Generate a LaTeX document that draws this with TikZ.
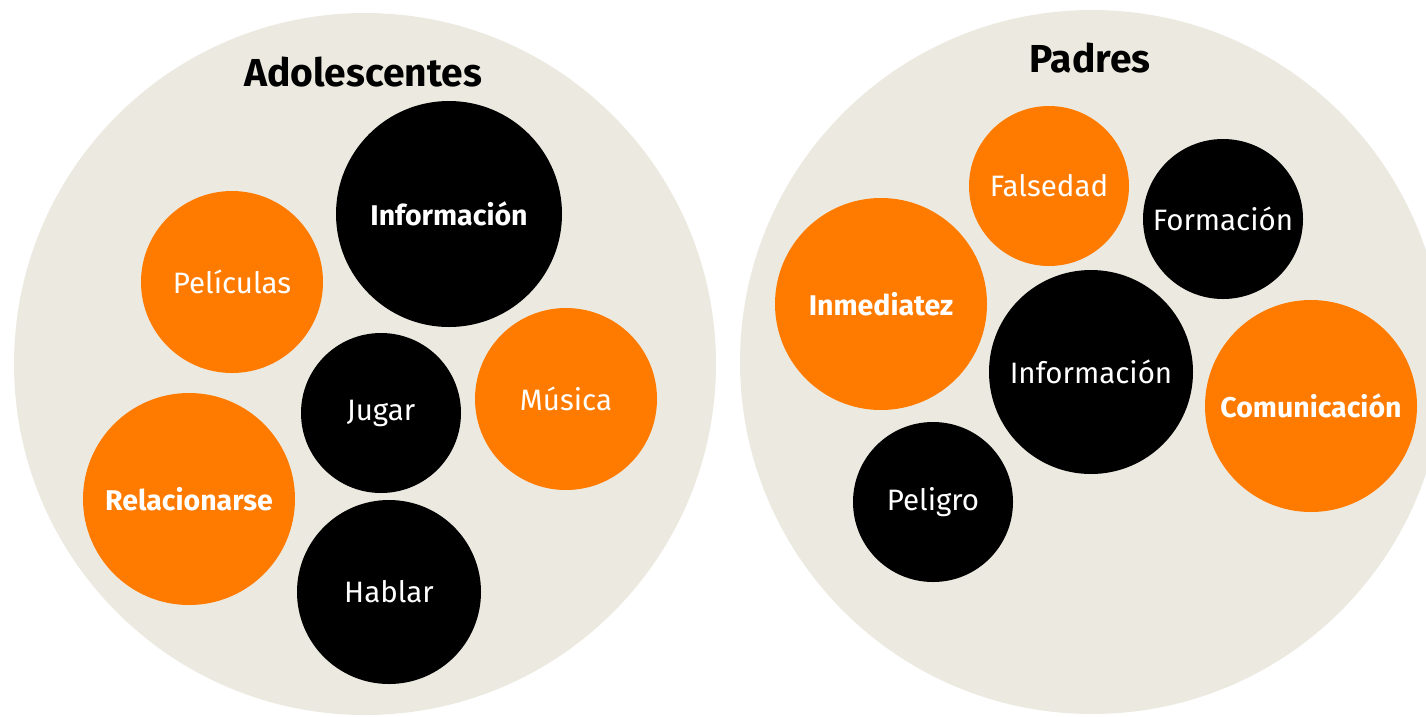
\documentclass[tikz,border=0pt]{standalone}
\usepackage{fontspec}
\setmainfont{Fira Sans}
\definecolor{beige}{HTML}{ECEAE0}
\definecolor{naranja}{HTML}{FF7B00}
\tikzset{
  bigc/.style={circle, fill=beige, inner sep=0pt},
  org/.style={circle, fill=naranja, text=white, inner sep=0pt, font=\fontsize{29.5}{34}\selectfont},
  blk/.style={circle, fill=black, text=white, inner sep=0pt, font=\fontsize{29.5}{34}\selectfont},
  bld/.style={font=\fontsize{28.5}{34}\selectfont\bfseries},
  ttl/.style={inner sep=0pt, font=\fontsize{39}{44}\selectfont\bfseries, text=black}
}
\begin{document}
\begin{tikzpicture}[x=1pt,y=-1pt]
\useasboundingbox (0,0) rectangle (1426,716);
\clip (0,0) rectangle (1426,716);
% big circles
\node[bigc, minimum size=702pt] (adol) at (365,364) {};
\node[bigc, minimum size=704pt] (pad) at (1092,362) {};
\node[ttl] (tA) at (363,72) {Adolescentes};
\node[ttl] (tP) at (1090,58) {Padres};
% left
\node[blk, bld, minimum size=226pt] (linfo) at (449,214) {Información};
\node[org, minimum size=182pt] (lpel) at (232,282) {Películas};
\node[blk, minimum size=160pt] (ljug) at (381,413) {Jugar};
\node[org, minimum size=182pt] (lmus) at (566,399) {Música};
\node[org, bld, minimum size=212pt] (lrel) at (189,499) {Relacionarse};
\node[blk, minimum size=184pt] (lhab) at (389,592) {Hablar};
% right
\node[org, minimum size=160pt] (rfal) at (1049,186) {Falsedad};
\node[blk, minimum size=160pt] (rfor) at (1223,219) {Formación};
\node[org, bld, minimum size=212pt] (rinm) at (881,304) {Inmediatez};
\node[blk, minimum size=204pt] (rinf) at (1091,372) {Información};
\node[org, bld, minimum size=212pt] (rcom) at (1311,406) {Comunicación};
\node[blk, minimum size=160pt] (rpel) at (933,502) {Peligro};
\end{tikzpicture}
\end{document}
